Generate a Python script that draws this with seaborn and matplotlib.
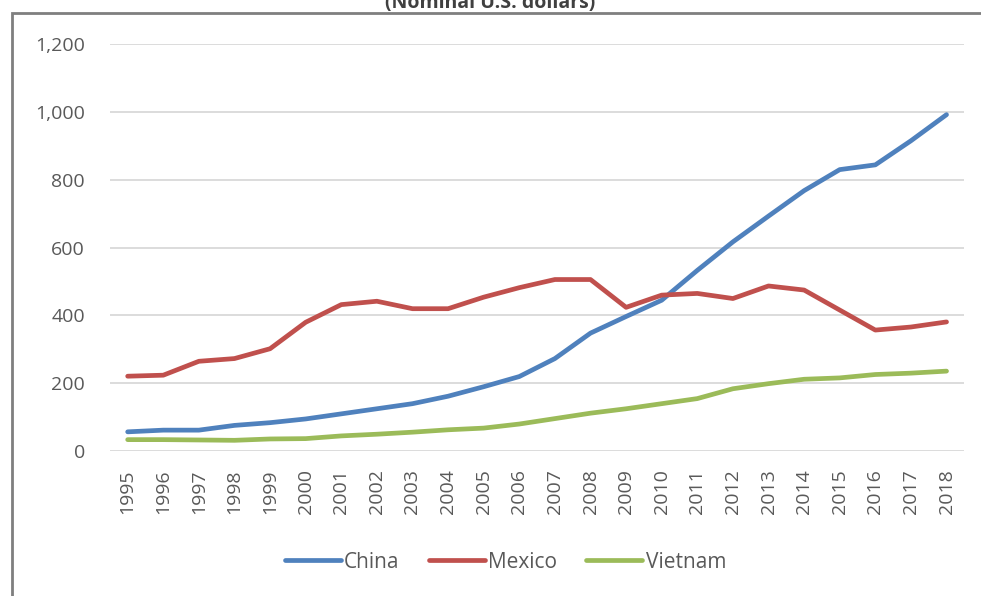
import pandas as pd
import matplotlib.pyplot as plt
import matplotlib.patches as patches
import seaborn as sns


# ======================
# DATA
# ======================

years = list(range(1995, 2019))

china = [57, 62, 62, 76, 84, 95, 110, 125, 140, 162, 190, 220, 273, 348,
         397, 445, 533, 617, 693, 768, 830, 844, 915, 992]

mexico = [221, 224, 265, 273, 302, 380, 432, 442, 420, 420, 454, 482,
          506, 506, 424, 460, 465, 450, 487, 475, 416, 357, 366, 381]

vietnam = [34, 34, 33, 32, 36, 37, 45, 50, 56, 63, 68, 80, 96, 112,
           125, 140, 155, 184, 199, 212, 216, 226, 230, 236]

countries = ["China", "Mexico", "Vietnam"]
colors = ["#4F81BD", "#C0504D", "#9BBB59"]

y_ticks = [0, 200, 400, 600, 800, 1000, 1200]


# ======================
# TABLE
# ======================

df = pd.DataFrame({
    "year": years * 3,
    "value": china + mexico + vietnam,
    "country": [c for c in countries for _ in years],
})


# ======================
# CONFIG
# ======================

sns.set_theme(style="white")
plt.rcParams['font.family'] = ['Open Sans', 'DejaVu Sans']

label_color = "#595959"


# ======================
# CHART
# ======================

fig = plt.figure(figsize=(9.81, 5.96), dpi=100)
ax = fig.add_axes([0.112, 0.243, 0.871, 0.683])

sns.lineplot(
    data=df,
    x="year",
    y="value",
    hue="country",
    palette=colors,
    linewidth=3.4,
    ax=ax
)

ax.set_xlim(1994.5, 2018.5)
ax.set_ylim(0, 1200)
ax.set_xticks(years)
ax.set_xticklabels([str(y) for y in years], rotation=90)
ax.set_yticks(y_ticks)
ax.set_yticklabels([f"{v:,}" for v in y_ticks])

ax.grid(axis="y", color="#d9d9d9", linewidth=1.3)
ax.set_axisbelow(True)
for side in ["top", "right", "left", "bottom"]:
    ax.spines[side].set_visible(False)

ax.tick_params(axis="both", length=0, labelsize=14, labelcolor=label_color)
ax.tick_params(axis="y", pad=18)
ax.tick_params(axis="x", pad=13)

ax.set_xlabel("")
ax.set_ylabel("")

ax.legend(
    loc="center",
    bbox_to_anchor=(0.515, 0.057),
    bbox_transform=fig.transFigure,
    ncol=3,
    frameon=False,
    handlelength=2.7,
    handletextpad=0.15,
    columnspacing=1.4,
    fontsize=15,
    labelcolor=label_color,
)

# outer frame, cut off at right and bottom
frame = patches.Rectangle(
    (12 / 981, -0.02),
    1.1,
    (596 - 13) / 596 + 0.02,
    transform=fig.transFigure,
    fill=False,
    edgecolor="#7f7f7f",
    linewidth=2,
)
fig.patches.append(frame)

fig.text(
    0.5, 0.995,
    "(Nominal U.S. dollars)",
    ha="center",
    va="center",
    fontsize=14,
    fontweight="bold",
    color="#404040",
)

plt.savefig("out.png", dpi=100)
plt.close()
